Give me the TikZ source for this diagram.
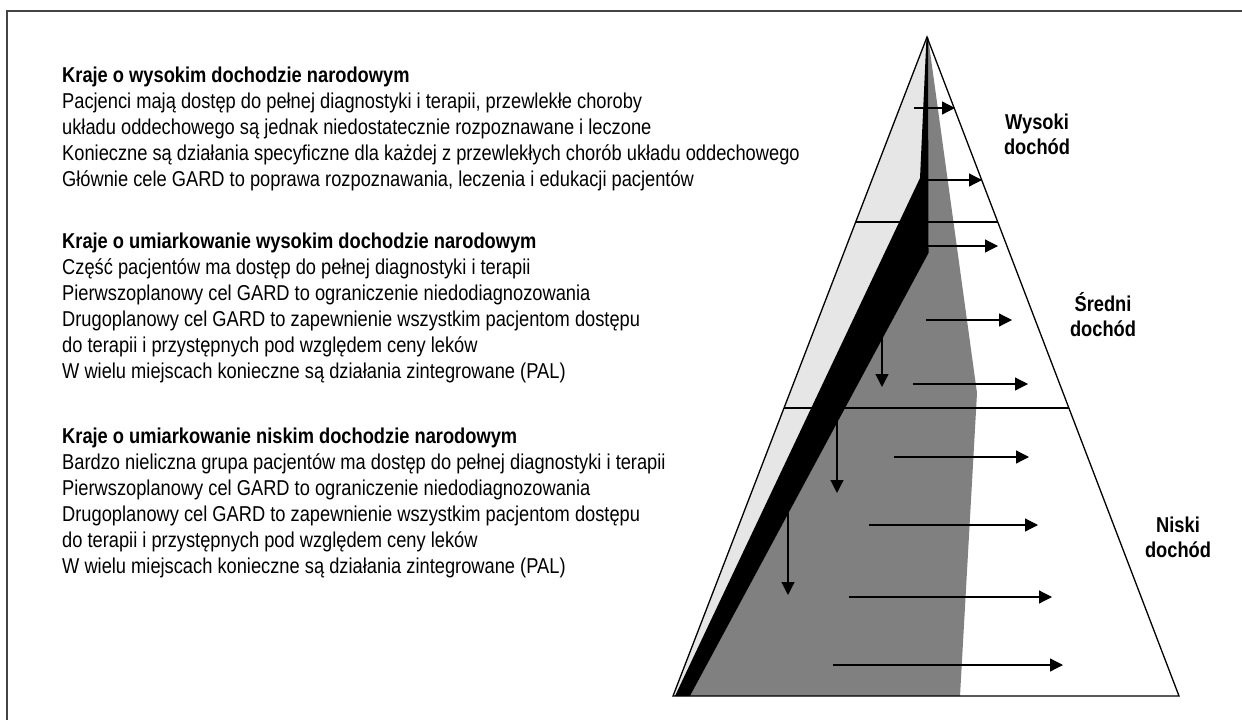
\documentclass[tikz,border=0pt]{standalone}
\usepackage{fontspec}
\setmainfont{Liberation Sans}[FakeStretch=0.85]
\usetikzlibrary{arrows.meta,calc}
\definecolor{lightg}{HTML}{E6E6E6}
\definecolor{darkg}{HTML}{808080}
\definecolor{framec}{HTML}{444444}
\begin{document}
\begin{tikzpicture}[x=1pt,y=-1pt,
  edge/.style={draw=black,line width=1.3pt},
  arr/.style={draw=black,line width=1.2pt,-{Triangle[length=13pt,width=13pt]}},
  body/.style={anchor=base west,inner sep=0pt},
  lab/.style={align=center,inner sep=0pt,font=\fontsize{21.5}{25}\selectfont\bfseries}]
\useasboundingbox (0,0) rectangle (1242,720);
% frame
\coordinate (f0) at (7,720);
\coordinate (f1) at (7,11);
\coordinate (f2) at (1242,11);
\draw[framec,line width=2pt] (f0) -- (f1) -- (f2);
% pyramid corners
\coordinate (apex) at (927,37);
\coordinate (bl) at (673,696);
\coordinate (br) at (1179,696);
% fills
\fill[lightg] (apex) -- (bl) -- (675,696) -- (920,178) -- cycle;
\fill[darkg] (928,37) -- (977,393) -- (960,696) -- (690,696) -- (928,253) -- cycle;
\fill[black] (926.5,37) -- (920,178) -- (675,696) -- (690,696) -- (928.5,253) -- (928,37) -- cycle;
% outline
\draw[edge,line join=miter] (apex) -- (bl) -- (br) -- cycle;
% dividers
\coordinate (d1l) at ($(apex)!0.2807!(bl)$);
\coordinate (d1r) at ($(apex)!0.2807!(br)$);
\coordinate (d2l) at ($(apex)!0.563!(bl)$);
\coordinate (d2r) at ($(apex)!0.563!(br)$);
\draw[edge] (d1l) -- (d1r);
\draw[edge] (d2l) -- (d2r);
% horizontal arrows
\foreach \i/\xa/\xb/\yy in {1/914/955/108,2/928/982/180,3/928/998/246,4/926/1012/320,5/913/1028/384,6/894/1029/457,7/869/1038/525,8/849/1052/597,9/833/1063/665}{
  \coordinate (hs\i) at (\xa,\yy);
  \coordinate (he\i) at (\xb,\yy);
  \draw[arr] (hs\i) -- (he\i);
}
% vertical arrows
\foreach \i/\xx/\ya/\yb in {1/882/333/387,2/837/410/493,3/788/513/595}{
  \coordinate (vs\i) at (\xx,\ya);
  \coordinate (ve\i) at (\xx,\yb);
  \draw[arr] (vs\i) -- (ve\i);
}
% right labels
\node[lab] (lw) at (1037,134) {Wysoki\\dochód};
\node[lab] (ls) at (1103,315) {Średni\\dochód};
\node[lab] (ln) at (1178,537) {Niski\\dochód};
% text blocks
\node[body] (t1) at (62,82) {\parbox[t]{900pt}{\fontsize{21.5}{26}\selectfont
\textbf{Kraje o wysokim dochodzie narodowym}\\
Pacjenci mają dostęp do pełnej diagnostyki i terapii, przewlekłe choroby\\
układu oddechowego są jednak niedostatecznie rozpoznawane i leczone\\
Konieczne są działania specyficzne dla każdej z przewlekłych chorób układu oddechowego\\
Głównie cele GARD to poprawa rozpoznawania, leczenia i edukacji pacjentów}};
\node[body] (t2) at (62,248) {\parbox[t]{900pt}{\fontsize{21.5}{26}\selectfont
\textbf{Kraje o umiarkowanie wysokim dochodzie narodowym}\\
Część pacjentów ma dostęp do pełnej diagnostyki i terapii\\
Pierwszoplanowy cel GARD to ograniczenie niedodiagnozowania\\
Drugoplanowy cel GARD to zapewnienie wszystkim pacjentom dostępu\\
do terapii i przystępnych pod względem ceny leków\\
W wielu miejscach konieczne są działania zintegrowane (PAL)}};
\node[body] (t3) at (62,443) {\parbox[t]{900pt}{\fontsize{21.5}{26}\selectfont
\textbf{Kraje o umiarkowanie niskim dochodzie narodowym}\\
Bardzo nieliczna grupa pacjentów ma dostęp do pełnej diagnostyki i terapii\\
Pierwszoplanowy cel GARD to ograniczenie niedodiagnozowania\\
Drugoplanowy cel GARD to zapewnienie wszystkim pacjentom dostępu\\
do terapii i przystępnych pod względem ceny leków\\
W wielu miejscach konieczne są działania zintegrowane (PAL)}};
\end{tikzpicture}
\end{document}
